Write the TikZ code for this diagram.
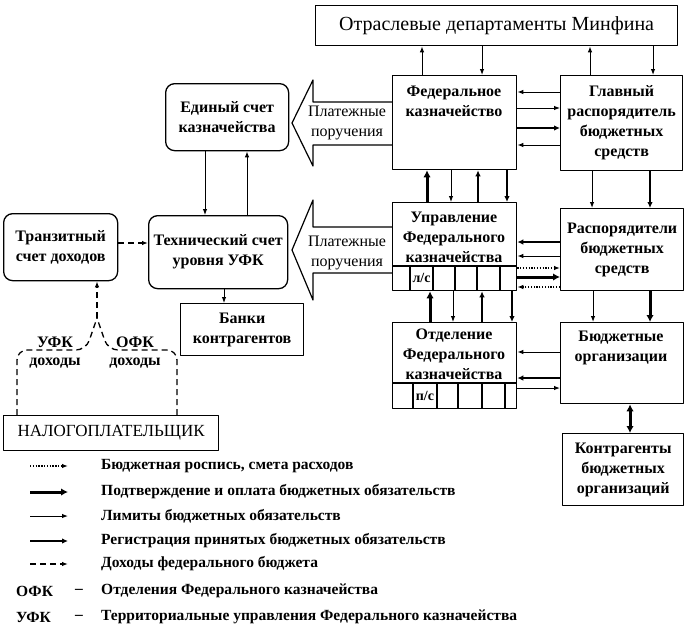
\documentclass[tikz,border=0pt]{standalone}
\usepackage{fontspec}
\setmainfont{Liberation Serif}
\usetikzlibrary{arrows.meta}
\newcommand{\boxfont}{\fontsize{16}{20}\selectfont\bfseries}
\newcommand{\thinfont}{\fontsize{16}{20}\selectfont}
\newcommand{\legfont}{\fontsize{15.5}{18}\selectfont\bfseries}
\tikzset{
  blk/.style 2 args={draw, line width=1.3pt, anchor=north west, minimum width=#1, minimum height=#2, inner sep=0pt, align=center, font=\boxfont},
  rblk/.style 2 args={blk={#1}{#2}, rounded corners=9pt},
  txt/.style={align=center, inner sep=0pt, font=\boxfont},
  lim/.style={line width=1pt, >={Latex[length=6pt,width=4.5pt]}},
  reg/.style={line width=2pt, >={Latex[length=6pt,width=5.5pt]}},
  pay/.style={line width=3pt, >={Latex[length=7pt,width=7.5pt]}},
  plan/.style={line width=1.3pt, dash pattern=on 1.3pt off 1.5pt, >={Latex[length=6pt,width=4.5pt]}},
  inc/.style={line width=1.3pt, dash pattern=on 6pt off 4pt, >={Latex[length=6pt,width=4.5pt]}},
}
\begin{document}
\begin{tikzpicture}[x=1pt, y=-1pt, line join=round]
\useasboundingbox (0,0) rectangle (684,641);
% boxes
\node[blk={362}{40}, font=\fontsize{20}{24}\selectfont] (minfin) at (315,5) {Отраслевые департаменты Минфина};
\node[blk={124}{94}] (fk) at (392,75) {};
\node[txt] (fkt) at (454,101) {Федеральное\\казначейство};
\node[blk={122}{95}] (grbs) at (560,75) {Главный\\распорядитель\\бюджетных\\средств};
\node[rblk={123}{67}] (esk) at (165,83) {Единый счет\\казначейства};
\node[rblk={139}{73}] (tech) at (148,215) {Технический счет\\уровня УФК};
\node[rblk={114}{67}] (tranzit) at (3,213) {Транзитный\\счет доходов};
\node[blk={123}{52}] (banki) at (180,303) {Банки\\контрагентов};
\node[blk={215}{35}, font=\fontsize{17}{20}\selectfont] (nalog) at (3,415) {НАЛОГОПЛАТЕЛЬЩИК};
\node[blk={124}{88}] (ufk) at (392,202) {};
\node[txt] (ufkt) at (454,237) {Управление\\Федерального\\казначейства};
\node[blk={124}{86}] (ofk) at (392,322) {};
\node[txt] (ofkt) at (454,354) {Отделение\\Федерального\\казначейства};
\node[blk={123}{82}] (rbs) at (560,208) {Распорядители\\бюджетных\\средств};
\node[blk={123}{81}] (bo) at (560,322) {};
\node[txt] (bot) at (621,348) {Бюджетные\\организации};
\node[blk={121}{72}] (kontr) at (562,433) {Контрагенты\\бюджетных\\организаций};
% account strips
\draw[line width=1.3pt] (ufk.west |- 0,266) -- (ufk.east |- 0,266);
\foreach \xx in {410,433,455,477,500} \draw[line width=1.3pt] (\xx,266) -- (\xx,290);
\node[font=\fontsize{14}{16}\selectfont\bfseries, inner sep=0pt] (ufkls) at (421.5,278) {л/с};
\draw[line width=1.3pt] (ofk.west |- 0,383) -- (ofk.east |- 0,383);
\foreach \xx in {413,437,458,482,505} \draw[line width=1.3pt] (\xx,383) -- (\xx,408);
\node[font=\fontsize{14}{16}\selectfont\bfseries, inner sep=0pt] (ofkps) at (425,395.5) {п/с};
% payment orders
\draw[line width=1.2pt] (fk.west |- 0,102) -- (313,102) -- (313,80) -- (292,123) -- (313,166) -- (313,145) -- (fk.west |- 0,145);
\node[font=\thinfont, align=center, inner sep=0pt] (pp1) at (347,123) {Платежные\\поручения};
\draw[line width=1.2pt] (ufk.west |- 0,227) -- (313,227) -- (313,200) -- (292,250) -- (313,300) -- (313,273) -- (ufk.west |- 0,273);
\node[font=\thinfont, align=center, inner sep=0pt] (pp2) at (347,253) {Платежные\\поручения};
% Minfin
\draw[lim,->] (fk.north -| 422,0) -- (minfin.south -| 422,0);
\draw[lim,->] (minfin.south -| 482,0) -- (fk.north -| 482,0);
\draw[lim,->] (grbs.north -| 590,0) -- (minfin.south -| 590,0);
\draw[lim,->] (minfin.south -| 653,0) -- (grbs.north -| 653,0);
% FK - GRBS
\draw[lim,->] (grbs.west |- 0,92) -- (fk.east |- 0,92);
\draw[lim,->] (fk.east |- 0,108) -- (grbs.west |- 0,108);
\draw[reg,->] (fk.east |- 0,128) -- (grbs.west |- 0,128);
\draw[lim,->] (grbs.west |- 0,145) -- (fk.east |- 0,145);
% FK - UFK - OFK
\draw[pay,->] (ufk.north -| 427,0) -- (fk.south -| 427,0);
\draw[lim,->] (fk.south -| 451,0) -- (ufk.north -| 451,0);
\draw[reg,->] (ufk.north -| 478,0) -- (fk.south -| 478,0);
\draw[reg,->] (fk.south -| 507,0) -- (ufk.north -| 507,0);
\draw[pay,->] (ofk.north -| 430,0) -- (ufk.south -| 430,0);
\draw[lim,->] (ufk.south -| 453,0) -- (ofk.north -| 453,0);
\draw[reg,->] (ofk.north -| 482,0) -- (ufk.south -| 482,0);
\draw[reg,->] (ufk.south -| 512,0) -- (ofk.north -| 512,0);
% GRBS - RBS - BO
\draw[lim,->] (grbs.south -| 592,0) -- (rbs.north -| 592,0);
\draw[reg,->] (grbs.south -| 650,0) -- (rbs.north -| 650,0);
\draw[lim,->] (rbs.south -| 593,0) -- (bo.north -| 593,0);
\draw[pay,->] (rbs.south -| 650,0) -- (bo.north -| 650,0);
\draw[pay,<->] (bo.south -| 630,0) -- (kontr.north -| 630,0);
% UFK - RBS
\draw[reg,->] (rbs.west |- 0,242) -- (ufk.east |- 0,242);
\draw[lim,->] (rbs.west |- 0,256) -- (ufk.east |- 0,256);
\draw[plan,->] (ufk.east |- 0,268) -- (rbs.west |- 0,268);
\draw[pay,->] (ufk.east |- 0,277) -- (rbs.west |- 0,277);
\draw[plan,->] (rbs.west |- 0,287) -- (ufk.east |- 0,287);
% OFK - BO
\draw[lim,->] (bo.west |- 0,352) -- (ofk.east |- 0,352);
\draw[reg,->] (bo.west |- 0,378) -- (ofk.east |- 0,378);
\draw[lim,->] (ofk.east |- 0,388) -- (bo.west |- 0,388);
% accounts
\draw[lim,->] (esk.south -| 205,0) -- (tech.north -| 205,0);
\draw[lim,->] (tech.north -| 247,0) -- (esk.south -| 247,0);
\draw[lim,->] (tech.south -| 224,0) -- (banki.north -| 224,0);
\draw[inc,->] (tranzit.east |- 0,243) -- (tech.west |- 0,243);
% revenues
\coordinate (split) at (97,318);
\draw[inc, rounded corners=10pt] (nalog.north -| 17,0) -- (17,350) -- (86,350) -- (split);
\draw[inc, rounded corners=10pt] (nalog.north -| 177,0) -- (177,350) -- (108,350) -- (split);
\draw[inc,->] (split) -- (tranzit.south -| split);
\node[font=\fontsize{16}{18}\selectfont\bfseries, anchor=south, inner sep=1pt] (ufkinc) at (55,349) {УФК};
\node[font=\fontsize{16}{18}\selectfont\bfseries, inner sep=0pt] (ufkdoh) at (55,363) {доходы};
\node[font=\fontsize{16}{18}\selectfont\bfseries, anchor=south, inner sep=1pt] (ofkinc) at (135,349) {ОФК};
\node[font=\fontsize{16}{18}\selectfont\bfseries, inner sep=0pt] (ofkdoh) at (135,363) {доходы};
% legend
\foreach \st/\yy/\tx [count=\i] in {plan/466/{Бюджетная роспись, смета расходов}, pay/492/{Подтверждение и оплата бюджетных обязательств}, lim/516/{Лимиты бюджетных обязательств}, reg/541/{Регистрация принятых бюджетных обязательств}, inc/564/{Доходы федерального бюджета}}
{
  \draw[\st,->] (30,\yy) -- (68,\yy);
  \node[font=\legfont, anchor=west, inner sep=0pt] (leg\i) at (101,\yy) {\tx};
}
\node[font=\legfont, anchor=west, inner sep=0pt] (legofk) at (16,591) {ОФК};
\node[font=\legfont, inner sep=0pt] (legofkd) at (79,591) {–};
\node[font=\legfont, anchor=west, inner sep=0pt] (legofkt) at (101,591) {Отделения Федерального казначейства};
\node[font=\legfont, anchor=west, inner sep=0pt] (legufk) at (16,617) {УФК};
\node[font=\legfont, inner sep=0pt] (legufkd) at (79,617) {–};
\node[font=\legfont, anchor=west, inner sep=0pt] (legufkt) at (101,617) {Территориальные управления Федерального казначейства};
\end{tikzpicture}
\end{document}
